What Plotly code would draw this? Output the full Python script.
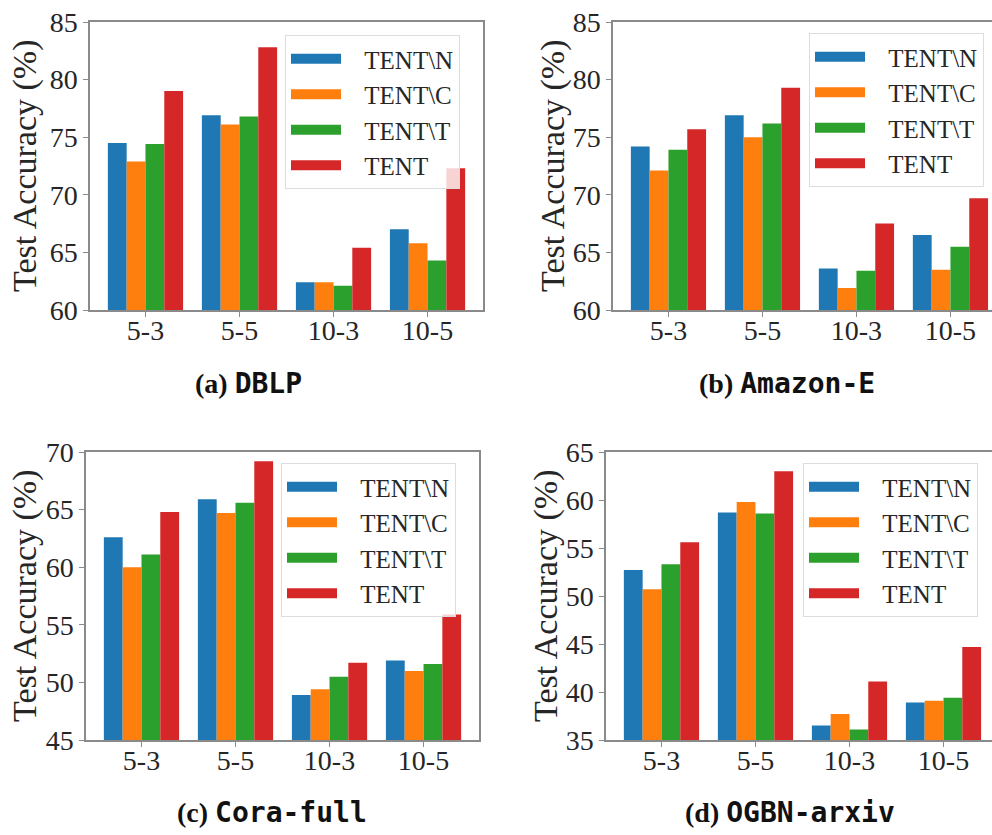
import plotly.graph_objects as go

categories = ["5-3", "5-5", "10-3", "10-5"]
series_names = ["TENT\\N", "TENT\\C", "TENT\\T", "TENT"]
colors = ["#1f77b4", "#ff7f0e", "#2ca02c", "#d62728"]

# DBLP
dblp = [
    [74.5, 76.9, 62.4, 67.0],
    [72.9, 76.1, 62.4, 65.8],
    [74.4, 76.8, 62.1, 64.3],
    [79.0, 82.8, 65.4, 72.3],
]
# Amazon-E
amazon = [
    [74.2, 76.9, 63.6, 66.5],
    [72.1, 75.0, 61.9, 63.5],
    [73.9, 76.2, 63.4, 65.5],
    [75.7, 79.3, 67.5, 69.7],
]
# Cora-full
cora = [
    [62.6, 65.9, 48.9, 51.9],
    [60.0, 64.7, 49.4, 51.0],
    [61.1, 65.6, 50.5, 51.6],
    [64.8, 69.2, 51.7, 55.9],
]
# OGBN-arxiv
ogbn = [
    [52.7, 58.7, 36.5, 38.9],
    [50.7, 59.8, 37.7, 39.1],
    [53.3, 58.6, 36.1, 39.4],
    [55.6, 63.0, 41.1, 44.7],
]

panel_data = [dblp, amazon, cora, ogbn]
y_ranges = [[60, 85], [60, 85], [45, 70], [35, 65]]
caption_letters = ["(a)", "(b)", "(c)", "(d)"]
caption_names = ["DBLP", "Amazon-E", "Cora-full", "OGBN-arxiv"]

W, H = 992, 835
SERIF = "Liberation Serif, Times New Roman, serif"
MONO = "DejaVu Sans Mono, monospace"

# layout (pixel geometry)
panels = [
    dict(x0=90, x1=483, y0=22, y1=310, xr=[-0.59, 3.59], ylab_x=25, leg=(285, 35)),
    dict(x0=613, x1=992, y0=22, y1=310, xr=[-0.59, 3.442], ylab_x=553, leg=(809, 33)),
    dict(x0=86, x1=479, y0=452, y1=740, xr=[-0.59, 3.59], ylab_x=25, leg=(281, 463)),
    dict(x0=606, x1=992, y0=452, y1=740, xr=[-0.59, 3.516], ylab_x=546, leg=(803, 463)),
]
caption_pos = [(248, 383), (787, 383), (272, 812), (790, 812)]

fig = go.Figure()
axis_color = "#8a8a8a"
text_color = "#262626"

for p, (data, geo) in enumerate(zip(panel_data, panels)):
    sfx = "" if p == 0 else str(p + 1)
    leg = "legend" if p == 0 else f"legend{p + 1}"
    for s in range(4):
        fig.add_trace(go.Bar(
            x=categories, y=data[s], name=series_names[s],
            marker=dict(color=colors[s], line=dict(width=0)),
            xaxis="x" + sfx, yaxis="y" + sfx, showlegend=False,
        ))
    for s in range(4):
        fig.add_trace(go.Scatter(
            x=[None], y=[None], mode="lines", name="   " + series_names[s],
            line=dict(color=colors[s], width=17),
            xaxis="x" + sfx, yaxis="y" + sfx, legend=leg, showlegend=True,
        ))
    right_open = p in (1, 3)
    fig.update_layout({
        "xaxis" + sfx: dict(
            domain=[geo["x0"] / W, geo["x1"] / W], range=geo["xr"],
            anchor="y" + sfx, type="category", automargin=False,
            showline=True, linecolor=axis_color, linewidth=1.5, mirror=True,
            ticks="outside", ticklen=5, tickcolor=axis_color,
            ticklabelstandoff=-10,
            tickfont=dict(family=SERIF, size=28, color=text_color),
            showgrid=False, zeroline=False,
        ),
        "yaxis" + sfx: dict(
            domain=[1 - geo["y1"] / H, 1 - geo["y0"] / H], range=y_ranges[p],
            anchor="x" + sfx, dtick=5, automargin=False,
            showline=True, linecolor=axis_color, linewidth=1.5,
            mirror=False if right_open else True,
            ticks="outside", ticklen=5, tickcolor=axis_color,
            tickfont=dict(family=SERIF, size=28, color=text_color),
            showgrid=False, zeroline=False,
        ),
        leg: dict(
            x=geo["leg"][0] / W, y=1 - geo["leg"][1] / H,
            xanchor="left", yanchor="top",
            bgcolor="rgba(255,255,255,0.8)", bordercolor="#dddddd", borderwidth=1,
            font=dict(family=SERIF, size=25, color=text_color),
            itemwidth=50,
        ),
    })
    # y-axis title
    fig.add_annotation(
        x=geo["ylab_x"] / W, y=1 - ((geo["y0"] + geo["y1"]) / 2) / H,
        xref="paper", yref="paper", text="Test Accuracy (%)", textangle=-90,
        showarrow=False, font=dict(family=SERIF, size=34, color=text_color),
        xanchor="center", yanchor="middle",
    )
    cx, cy = caption_pos[p]
    fig.add_annotation(
        x=cx / W, y=1 - cy / H, xref="paper", yref="paper",
        text=f"<b>{caption_letters[p]}</b> <b><span style='font-family:DejaVu Sans Mono'>{caption_names[p]}</span></b>",
        showarrow=False, font=dict(family=SERIF, size=28, color="#111111"),
        xanchor="center", yanchor="middle",
    )

fig.update_layout(
    width=W, height=H, margin=dict(l=0, r=0, t=0, b=0, autoexpand=False),
    paper_bgcolor="white", plot_bgcolor="white",
    barmode="group", bargap=0.2, bargroupgap=0,
    showlegend=True,
)

fig.write_html("out.html")
